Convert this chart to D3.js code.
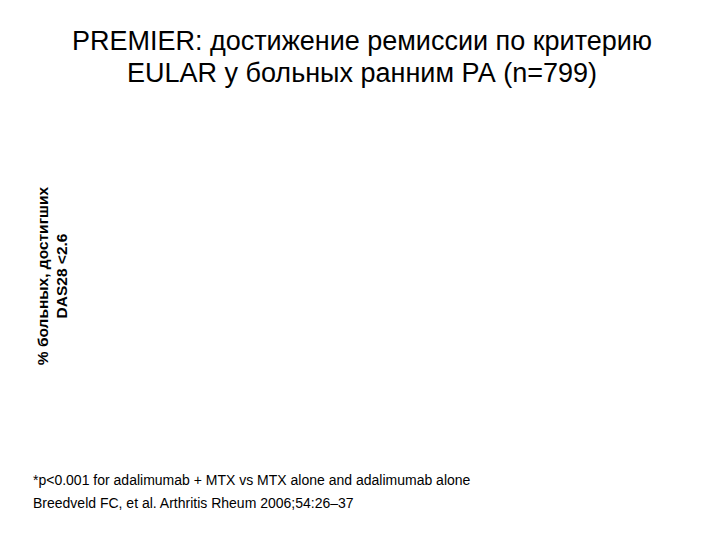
<!DOCTYPE html>
<html>
<head>
<meta charset="utf-8">
<script src="https://cdn.jsdelivr.net/npm/d3@7"></script>
<style>
  html, body { margin: 0; padding: 0; background: #fff; }
  svg { display: block; }
</style>
</head>
<body>
<script>
// Data (the reference chart area is empty: no bars are drawn)
const titleLines = ["PREMIER: достижение ремиссии по критерию", "EULAR у больных ранним РА (n=799)"];
const yLabelLines = ["% больных, достигших", "DAS28 <2.6"];
const footnotes = ["*p<0.001 for adalimumab + MTX vs MTX alone and adalimumab alone",
                   "Breedveld FC, et al. Arthritis Rheum 2006;54:26–37"];
const categories = [];
const values = [];

const W = 720, H = 540;
const svg = d3.select("body").append("svg").attr("width", W).attr("height", H);

const font = "'Liberation Sans', Arial, sans-serif";

// Title
svg.append("g").selectAll("text").data(titleLines).join("text")
  .attr("x", 362)
  .attr("y", (d, i) => 50 + i * 32)
  .attr("text-anchor", "middle")
  .attr("font-family", font)
  .attr("font-size", 27)
  .attr("fill", "#000")
  .text(d => d);

// Plot area (empty in reference)
const x = d3.scaleBand().domain(categories).range([90, 690]).padding(0.3);
const y = d3.scaleLinear().domain([0, 100]).range([440, 110]);
svg.append("g").selectAll("rect").data(values).join("rect")
  .attr("x", (d, i) => x(categories[i]))
  .attr("y", d => y(d))
  .attr("width", x.bandwidth())
  .attr("height", d => y(0) - y(d))
  .attr("fill", "#666");

// Y-axis label
svg.append("g")
  .attr("transform", "translate(0,276) rotate(-90)")
  .selectAll("text").data(yLabelLines).join("text")
  .attr("x", 0)
  .attr("y", (d, i) => 48 + i * 19)
  .attr("text-anchor", "middle")
  .attr("font-family", font)
  .attr("font-weight", "bold")
  .attr("font-size", 15.5)
  .attr("fill", "#000")
  .text(d => d);

// Footnotes
svg.append("g").selectAll("text").data(footnotes).join("text")
  .attr("x", 33)
  .attr("y", (d, i) => 485 + i * 23)
  .attr("font-family", font)
  .attr("font-size", 14)
  .attr("fill", "#000")
  .text(d => d);
</script>
</body>
</html>
